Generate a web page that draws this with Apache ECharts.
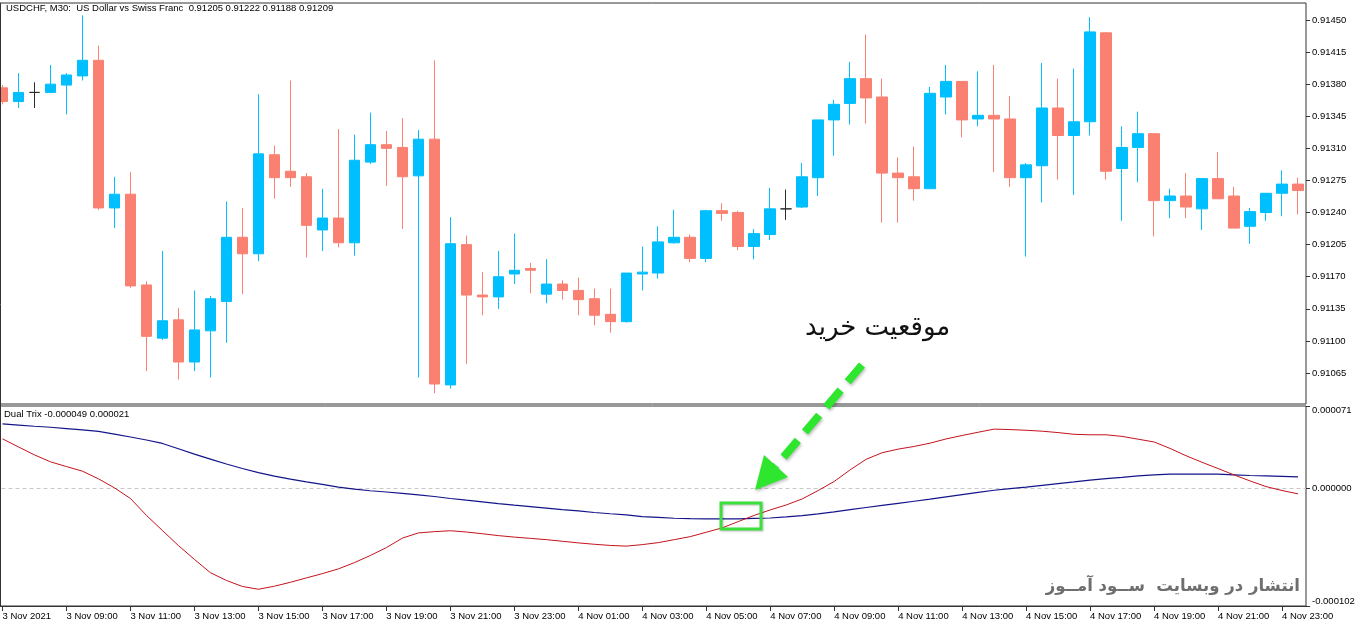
<!DOCTYPE html>
<html>
<head>
<meta charset="utf-8">
<script src="https://cdn.jsdelivr.net/npm/echarts@6/dist/echarts.min.js"></script>
<style>
html,body{margin:0;padding:0;background:#fff;}
#chart{width:1362px;height:628px;}
</style>
</head>
<body>
<div id="chart"></div>
<script>
// ---- Data ----
const startTime = { day: 3, hour: 7, minute: 0 }; // first bar: 3 Nov 2021 07:00, M30
const barCount = 82;

const tickLabels = ["3 Nov 2021","3 Nov 09:00","3 Nov 11:00","3 Nov 13:00","3 Nov 15:00","3 Nov 17:00",
  "3 Nov 19:00","3 Nov 21:00","3 Nov 23:00","4 Nov 01:00","4 Nov 03:00","4 Nov 05:00","4 Nov 07:00",
  "4 Nov 09:00","4 Nov 11:00","4 Nov 13:00","4 Nov 15:00","4 Nov 17:00","4 Nov 19:00","4 Nov 21:00","4 Nov 23:00"];

const priceTicks = [0.91450,0.91415,0.91380,0.91345,0.91310,0.91275,0.91240,0.91205,0.91170,0.91135,0.91100,0.91065];
const trixTicks = [71, 0, -102]; // in 1e-6 units

const opens = [0.91376,0.91361,0.91371,0.91371,0.91379,0.91389,0.91406,0.91245,0.91260,0.91161,
  0.91103,0.91123,0.91077,0.91111,0.91143,0.91213,0.91195,0.91303,0.91285,0.91279,
  0.91221,0.91234,0.91207,0.91295,0.91314,0.91311,0.91280,0.91320,0.91052,0.91205,
  0.91150,0.91148,0.91173,0.91179,0.91151,0.91162,0.91155,0.91146,0.91129,0.91121,
  0.91173,0.91174,0.91207,0.91213,0.91190,0.91242,0.91240,0.91203,0.91216,0.91244,
  0.91246,0.91278,0.91341,0.91359,0.91386,0.91366,0.91283,0.91279,0.91266,0.91366,
  0.91383,0.91342,0.91346,0.91342,0.91278,0.91291,0.91354,0.91324,0.91339,0.91436,
  0.91288,0.91311,0.91326,0.91253,0.91258,0.91244,0.91277,0.91258,0.91225,0.91240,
  0.91261,0.91271];
const highs = [0.91379,0.91392,0.91382,0.91401,0.91392,0.91455,0.91422,0.91279,0.91284,0.91165,
  0.91198,0.91136,0.91155,0.91149,0.91252,0.91245,0.91369,0.91313,0.91384,0.91283,
  0.91266,0.91331,0.91325,0.91349,0.91329,0.91343,0.91330,0.91406,0.91235,0.91215,
  0.91175,0.91198,0.91217,0.91185,0.91189,0.91166,0.91169,0.91157,0.91157,0.91174,
  0.91203,0.91225,0.91243,0.91216,0.91243,0.91250,0.91242,0.91222,0.91267,0.91265,
  0.91294,0.91341,0.91363,0.91404,0.91434,0.91386,0.91300,0.91312,0.91377,0.91401,
  0.91383,0.91394,0.91401,0.91367,0.91294,0.91403,0.91386,0.91397,0.91453,0.91437,
  0.91334,0.91350,0.91326,0.91266,0.91283,0.91277,0.91306,0.91268,0.91245,0.91261,
  0.91286,0.91278];
const lows = [0.91358,0.91354,0.91354,0.91371,0.91347,0.91384,0.91243,0.91223,0.91158,0.91067,
  0.91101,0.91058,0.91067,0.91060,0.91098,0.91151,0.91187,0.91255,0.91268,0.91191,
  0.91198,0.91202,0.91193,0.91293,0.91269,0.91222,0.91060,0.91043,0.91048,0.91075,
  0.91128,0.91135,0.91162,0.91152,0.91141,0.91145,0.91128,0.91117,0.91109,0.91120,
  0.91155,0.91168,0.91206,0.91186,0.91186,0.91231,0.91199,0.91189,0.91210,0.91232,
  0.91245,0.91258,0.91302,0.91336,0.91337,0.91229,0.91229,0.91253,0.91266,0.91347,
  0.91322,0.91334,0.91284,0.91268,0.91192,0.91251,0.91276,0.91259,0.91324,0.91276,
  0.91231,0.91273,0.91214,0.91234,0.91234,0.91221,0.91255,0.91223,0.91206,0.91231,
  0.91236,0.91238];
const closes = [0.91361,0.91371,0.91371,0.91380,0.91390,0.91406,0.91245,0.91260,0.91160,0.91105,
  0.91122,0.91077,0.91112,0.91146,0.91213,0.91195,0.91304,0.91278,0.91278,0.91226,
  0.91234,0.91207,0.91297,0.91314,0.91310,0.91279,0.91320,0.91053,0.91206,0.91150,
  0.91148,0.91170,0.91177,0.91177,0.91162,0.91155,0.91145,0.91128,0.91121,0.91174,
  0.91175,0.91208,0.91213,0.91190,0.91242,0.91239,0.91203,0.91217,0.91244,0.91244,
  0.91279,0.91341,0.91358,0.91386,0.91365,0.91283,0.91278,0.91266,0.91370,0.91383,
  0.91341,0.91346,0.91342,0.91278,0.91292,0.91354,0.91324,0.91339,0.91437,0.91285,
  0.91311,0.91326,0.91253,0.91258,0.91246,0.91277,0.91255,0.91223,0.91241,0.91261,
  0.91271,0.91264];

// Dual Trix lines, values in units of 1e-6
const trixBlue = [55.5,54.5,53.5,52.6,51.5,50.4,49.0,46.7,44.2,41.6,
  38.6,34.0,29.4,25.1,20.8,16.9,13.3,10.3,7.7,5.3,
  3.2,0.9,-0.9,-2.3,-3.4,-4.6,-5.8,-7.3,-9.0,-10.5,
  -11.9,-13.4,-14.8,-16.0,-17.3,-18.6,-19.8,-21.1,-22.2,-23.2,
  -24.7,-25.4,-26.1,-26.4,-26.6,-26.6,-26.6,-26.2,-25.9,-24.9,
  -23.8,-22.3,-20.6,-18.6,-16.8,-15.0,-13.2,-11.4,-9.6,-7.6,
  -5.6,-3.7,-1.9,-0.5,0.9,2.4,3.9,5.3,6.8,8.2,
  9.3,10.5,11.5,12.0,12.0,12.0,12.0,11.5,10.9,10.5,
  10.1,9.7];
const trixRed = [42.6,35.6,28.7,22.7,18.6,14.6,8.0,0.2,-9.0,-23.6,
  -36.7,-49.7,-61.7,-73.2,-79.9,-85.1,-87.5,-84.9,-81.5,-77.7,
  -74.0,-69.9,-64.5,-58.3,-51.5,-43.3,-38.8,-37.7,-36.9,-38.0,
  -39.5,-41.1,-42.4,-43.5,-44.6,-46.0,-47.4,-48.6,-49.6,-50.2,
  -48.9,-47.2,-44.6,-42.0,-38.2,-34.4,-29.0,-23.6,-18.9,-14.6,
  -9.4,-2.1,5.7,15.8,24.9,30.6,33.7,36.0,38.9,42.5,
  45.5,48.3,51.0,50.6,50.0,49.2,48.0,46.5,46.1,46.1,
  44.7,42.3,39.9,34.3,28.0,22.3,16.9,11.4,6.2,1.3,
  -2.1,-5.0];

// ---- Build ----
const categories = [];
for (let i = 0; i < barCount; i++) {
  const mins = startTime.hour * 60 + startTime.minute + i * 30;
  const day = startTime.day + Math.floor(mins / 1440);
  const m = mins % 1440;
  categories.push(day + ' Nov ' + String(Math.floor(m / 60)).padStart(2, '0') + ':' + String(m % 60).padStart(2, '0'));
}

const UP = '#00bfff', DOWN = '#fa8072', DOJI = '#2b2b2b';
const candleData = opens.map((o, i) => {
  const item = { value: [o, closes[i], lows[i], highs[i]] };
  if (o === closes[i]) {
    item.itemStyle = { color: DOJI, color0: DOJI, borderColor: DOJI, borderColor0: DOJI };
  }
  return item;
});

const FONT = '"Liberation Sans", Arial, sans-serif';
const chart = echarts.init(document.getElementById('chart'), null, { renderer: 'canvas' });

const option = {
  animation: false,
  backgroundColor: '#ffffff',
  title: [
    { text: 'USDCHF, M30:  US Dollar vs Swiss Franc  0.91205 0.91222 0.91188 0.91209', left: 6, top: 3, padding: 0,
      textStyle: { fontSize: 9.5, fontWeight: 'normal', fontFamily: FONT, color: '#000' } },
    { text: 'Dual Trix -0.000049 0.000021', left: 4, top: 409, padding: 0,
      textStyle: { fontSize: 9.5, fontWeight: 'normal', fontFamily: FONT, color: '#000' } }
  ],
  grid: [
    { left: -5.5, top: 3, width: 1311.5, height: 401, outerBoundsMode: 'none', containLabel: false,
      show: true, borderColor: '#333', borderWidth: 1, backgroundColor: 'transparent' },
    { left: -5.5, top: 406, width: 1311.5, height: 200, outerBoundsMode: 'none', containLabel: false,
      show: true, borderColor: '#333', borderWidth: 1, backgroundColor: 'transparent' }
  ],
  xAxis: [
    { type: 'category', gridIndex: 0, data: categories, boundaryGap: true, show: false },
    { type: 'category', gridIndex: 1, data: categories, boundaryGap: true,
      axisLine: { show: true, onZero: false, lineStyle: { color: '#333' } },
      axisTick: { show: true, alignWithLabel: true, interval: 3, length: 5, lineStyle: { color: '#333' } },
      axisLabel: { interval: 3, align: 'left', margin: 5, fontSize: 9.5, fontFamily: FONT, color: '#000',
        formatter: (v, idx) => tickLabels[Math.round(idx / 4)] || '' },
      splitLine: { show: false } }
  ],
  yAxis: [
    { type: 'value', gridIndex: 0, position: 'right', min: 0.910312, max: 0.914685, scale: true,
      axisLine: { show: false }, splitLine: { show: false },
      axisTick: { show: true, length: 4, customValues: priceTicks, lineStyle: { color: '#333' } },
      axisLabel: { customValues: priceTicks, margin: 6, fontSize: 9.5, fontFamily: FONT, color: '#000',
        formatter: v => v.toFixed(5) } },
    { type: 'value', gridIndex: 1, position: 'right', min: -102, max: 71,
      axisLine: { show: false }, splitLine: { show: false },
      axisTick: { show: true, length: 4, customValues: trixTicks, lineStyle: { color: '#333' } },
      axisLabel: { customValues: trixTicks, margin: 6, fontSize: 9.5, fontFamily: FONT, color: '#000',
        formatter: v => {
          const s = (v / 1e6).toFixed(6);
          if (v === 71) return '{t|' + s + '}';
          if (v === -102) return '{b|' + s + '}';
          return s;
        },
        rich: {
          t: { fontSize: 9.5, fontFamily: FONT, color: '#000', padding: [9, 0, 0, 0] },
          b: { fontSize: 9.5, fontFamily: FONT, color: '#000', padding: [0, 0, 9, 0] }
        } } }
  ],
  series: [
    { type: 'candlestick', xAxisIndex: 0, yAxisIndex: 0, data: candleData, barWidth: 11,
      itemStyle: { color: UP, color0: DOWN, borderColor: UP, borderColor0: DOWN, borderWidth: 1 } },
    { type: 'line', xAxisIndex: 1, yAxisIndex: 1, data: trixBlue, showSymbol: false, symbol: 'none',
      lineStyle: { color: '#14148a', width: 1.2 }, z: 3,
      markLine: { silent: true, symbol: ['none', 'none'], label: { show: false }, z: 1,
        lineStyle: { type: [4, 3], color: '#c8c8c8', width: 1 }, data: [{ yAxis: 0 }] } },
    { type: 'line', xAxisIndex: 1, yAxisIndex: 1, data: trixRed, showSymbol: false, symbol: 'none',
      lineStyle: { color: '#c4141c', width: 1 }, z: 3 }
  ],
  graphic: [
    { type: 'line', shape: { x1: 0.5, y1: 3, x2: 0.5, y2: 606 }, style: { stroke: '#333', lineWidth: 1 }, z: 100 },
    { type: 'text', left: 805, top: 315, z: 100,
      style: { text: 'موقعیت خرید', fontSize: 26, fontFamily: '"DejaVu Sans", sans-serif', fill: '#111' } },
    { type: 'line', z: 100, shape: { x1: 862, y1: 365, x2: 776, y2: 466 },
      style: { stroke: '#2ee62e', lineWidth: 8, lineDash: [22, 11], shadowBlur: 3, shadowColor: 'rgba(0,0,0,0.25)', shadowOffsetX: 1, shadowOffsetY: 2 } },
    { type: 'polygon', z: 100, shape: { points: [[755, 490], [788, 477], [764, 455]] },
      style: { fill: '#2ee62e', shadowBlur: 3, shadowColor: 'rgba(0,0,0,0.25)', shadowOffsetX: 1, shadowOffsetY: 2 } },
    { type: 'rect', z: 100, shape: { x: 721, y: 503, width: 40, height: 26 },
      style: { fill: 'none', stroke: '#3ce03c', lineWidth: 3, shadowBlur: 2, shadowColor: 'rgba(0,0,0,0.25)', shadowOffsetX: 1, shadowOffsetY: 1 } },
    { type: 'text', right: 62, top: 578, z: 100,
      style: { text: 'انتشار در وبسایت  ســود آمــوز', fontSize: 16.5, fontWeight: 'bold', fontFamily: '"DejaVu Sans", sans-serif', fill: '#6e6e6e' } }
  ]
};
chart.setOption(option);
</script>
</body>
</html>
